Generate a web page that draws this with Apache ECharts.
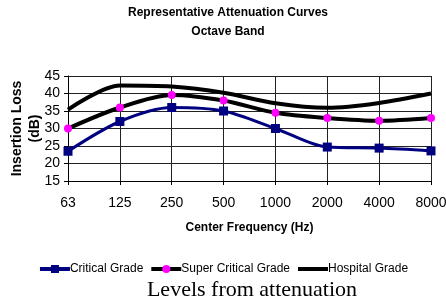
<!DOCTYPE html>
<html>
<head>
<meta charset="utf-8">
<script src="https://cdn.jsdelivr.net/npm/echarts@6/dist/echarts.min.js"></script>
<style>
  html, body { margin: 0; padding: 0; background: #fff; }
  #chart { width: 446px; height: 301px; }
</style>
</head>
<body>
<div id="chart"></div>
<script>
// data
var frequencies = ['63', '125', '250', '500', '1000', '2000', '4000', '8000'];
var criticalGrade = [23.5, 32, 36, 35, 30, 24.7, 24.4, 23.6];
var superCriticalGrade = [30, 36, 39.6, 38, 34.5, 33, 32.2, 33];
var hospitalGrade = [35.4, 42.3, 42, 40.2, 37.2, 35.9, 37.3, 40];
var yTicks = [15, 45, 5];

var chart = echarts.init(document.getElementById('chart'));

var font = 'Liberation Sans, Arial, sans-serif';
var narrow = 'Liberation Sans Narrow, Arial Narrow, Liberation Sans, sans-serif';

chart.setOption({
    animation: false,
    backgroundColor: '#fff',
    title: [{
        text: 'Representative Attenuation Curves\nOctave Band',
        left: 228,
        top: 3,
        padding: 0,
        textAlign: 'center',
        textStyle: {
            fontFamily: font,
            fontSize: 12,
            fontWeight: 'bold',
            color: '#000',
            lineHeight: 19
        }
    }, {
        text: 'Levels from attenuation',
        left: 252,
        top: 279,
        padding: 0,
        textAlign: 'center',
        textStyle: {
            fontFamily: 'Liberation Serif, Times New Roman, serif',
            fontSize: 22,
            fontWeight: 'normal',
            color: '#000'
        }
    }],
    legend: {
        top: 258,
        left: 'center',
        itemWidth: 30,
        itemHeight: 10,
        itemGap: 6,
        textStyle: {
            fontFamily: font,
            fontSize: 12,
            color: '#000',
            padding: [0, 0, 0, -5]
        },
        lineStyle: { width: 4 },
        data: [
            'Critical Grade',
            'Super Critical Grade',
            { name: 'Hospital Grade', itemStyle: { color: 'rgba(0,0,0,0)', borderWidth: 0 } }
        ]
    },
    grid: {
        left: 68,
        right: 15,
        top: 76,
        bottom: 120,
        outerBoundsMode: 'none'
    },
    xAxis: {
        type: 'category',
        boundaryGap: false,
        data: frequencies,
        name: 'Center Frequency (Hz)',
        nameLocation: 'middle',
        nameGap: 41,
        nameMoveOverlap: false,
        nameTextStyle: {
            fontFamily: font,
            fontSize: 12,
            fontWeight: 'bold',
            color: '#000'
        },
        axisLine: { lineStyle: { color: '#000', width: 1 } },
        axisTick: { show: true, length: 4, lineStyle: { color: '#000' } },
        axisLabel: {
            fontFamily: narrow,
            fontSize: 14,
            color: '#000',
            margin: 15
        },
        splitLine: { show: true, lineStyle: { color: '#222', width: 1 } }
    },
    yAxis: {
        type: 'value',
        min: yTicks[0],
        max: yTicks[1],
        interval: yTicks[2],
        name: 'Insertion Loss\n(dB)',
        nameLocation: 'middle',
        nameGap: 24,
        nameMoveOverlap: false,
        nameTextStyle: {
            fontFamily: font,
            fontSize: 14,
            fontWeight: 'bold',
            color: '#000',
            lineHeight: 18
        },
        axisLine: { show: true, lineStyle: { color: '#000', width: 1 } },
        axisTick: { show: true, length: 4, lineStyle: { color: '#000' } },
        axisLabel: {
            fontFamily: narrow,
            fontSize: 14,
            color: '#000',
            margin: 8
        },
        splitLine: { show: true, lineStyle: { color: '#222', width: 1 } }
    },
    series: [{
        name: 'Critical Grade',
        type: 'line',
        data: criticalGrade,
        smooth: 0.3,
        symbol: 'rect',
        symbolSize: 9,
        color: '#000080',
        lineStyle: { color: '#000080', width: 3 },
        itemStyle: { color: '#000080' },
        z: 4
    }, {
        name: 'Super Critical Grade',
        type: 'line',
        data: superCriticalGrade,
        smooth: 0.3,
        symbol: 'circle',
        symbolSize: 8,
        color: '#000',
        lineStyle: { color: '#000', width: 4 },
        itemStyle: { color: '#ff00ff' },
        z: 3
    }, {
        name: 'Hospital Grade',
        type: 'line',
        data: hospitalGrade,
        smooth: 0.3,
        symbol: 'none',
        color: '#000',
        lineStyle: { color: '#000', width: 4 },
        z: 2
    }]
});
</script>
</body>
</html>
